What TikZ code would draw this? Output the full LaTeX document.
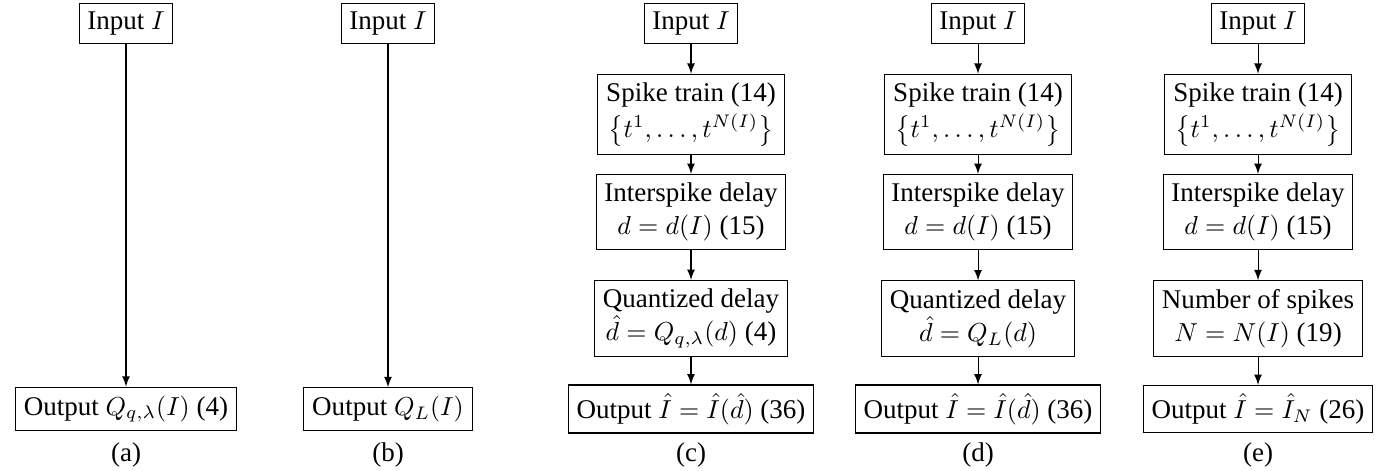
\documentclass[tikz,border=0pt]{standalone}
\usepackage[no-math]{fontspec}
\setmainfont{Liberation Serif}
\begin{document}
\begin{tikzpicture}[x=0.385pt,y=-0.385pt,>=latex,
  block/.style={draw,align=center,inner sep=3.2pt,font=\fontsize{10.4}{12.8}\selectfont},
  caption/.style={inner sep=1pt,font=\fontsize{10.4}{12.8}\selectfont}]
\useasboundingbox (0,0) rectangle (1396,470);
%%%%%%%%%%%%%%%%%%%%%%%%%%%%%%% (a) scalar quantizer
\node[block](inA) at (126,23.5){Input $I$};
\node[block](outA) at (126,409){Output $Q_{q,\lambda}(I)$ (4)};
\node[caption](capA) at (126,455){(a)};
\draw[->] (inA) -- (outA);
%%%%%%%%%%%%%%%%%%%%%%%%%%%%%%% (b) Lloyd quantizer
\node[block](inB) at (388,23.5){Input $I$};
\node[block](outB) at (388,409){Output $Q_L(I)$};
\node[caption](capB) at (388,455){(b)};
\draw[->] (inB) -- (outB);
%%%%%%%%%%%%%%%%%%%%%%%%%%%%%%% (c) spiking, scalar quantized delay
\node[block](inC) at (691,23.5){Input $I$};
\node[block](spikeC) at (691,114.5){Spike train (14)\\[1pt] $\left\{t^1,\dots,t^{N(I)}\right\}$};
\node[block](delayC) at (691,212){Interspike delay\\ $d=d(I)$ (15)};
\node[block](quantC) at (691,318.5){Quantized delay\\ $\hat{d}=Q_{q,\lambda}(d)$ (4)};
\node[block](outC) at (691,409){Output $\hat{I}=\hat{I}(\hat{d})$ (36)};
\node[caption](capC) at (691,455){(c)};
\draw[->] (inC) -- (spikeC);
\draw[->] (spikeC) -- (delayC);
\draw[->] (delayC) -- (quantC);
\draw[->] (quantC) -- (outC);
%%%%%%%%%%%%%%%%%%%%%%%%%%%%%%% (d) spiking, Lloyd quantized delay
\node[block](inD) at (978,23.5){Input $I$};
\node[block](spikeD) at (978,114.5){Spike train (14)\\[1pt] $\left\{t^1,\dots,t^{N(I)}\right\}$};
\node[block](delayD) at (978,212){Interspike delay\\ $d=d(I)$ (15)};
\node[block](quantD) at (978,318.5){Quantized delay\\ $\hat{d}=Q_L(d)$};
\node[block](outD) at (978,409){Output $\hat{I}=\hat{I}(\hat{d})$ (36)};
\node[caption](capD) at (978,455){(d)};
\draw[->] (inD) -- (spikeD);
\draw[->] (spikeD) -- (delayD);
\draw[->] (delayD) -- (quantD);
\draw[->] (quantD) -- (outD);
%%%%%%%%%%%%%%%%%%%%%%%%%%%%%%% (e) spike count
\node[block](inE) at (1258,23.5){Input $I$};
\node[block](spikeE) at (1258,114.5){Spike train (14)\\[1pt] $\left\{t^1,\dots,t^{N(I)}\right\}$};
\node[block](delayE) at (1258,212){Interspike delay\\ $d=d(I)$ (15)};
\node[block](countE) at (1258,318.5){Number of spikes\\ $N=N(I)$ (19)};
\node[block](outE) at (1258,409){Output $\hat{I}=\hat{I}_N$ (26)};
\node[caption](capE) at (1258,455){(e)};
\draw[->] (inE) -- (spikeE);
\draw[->] (spikeE) -- (delayE);
\draw[->] (delayE) -- (countE);
\draw[->] (countE) -- (outE);
\end{tikzpicture}
\end{document}
